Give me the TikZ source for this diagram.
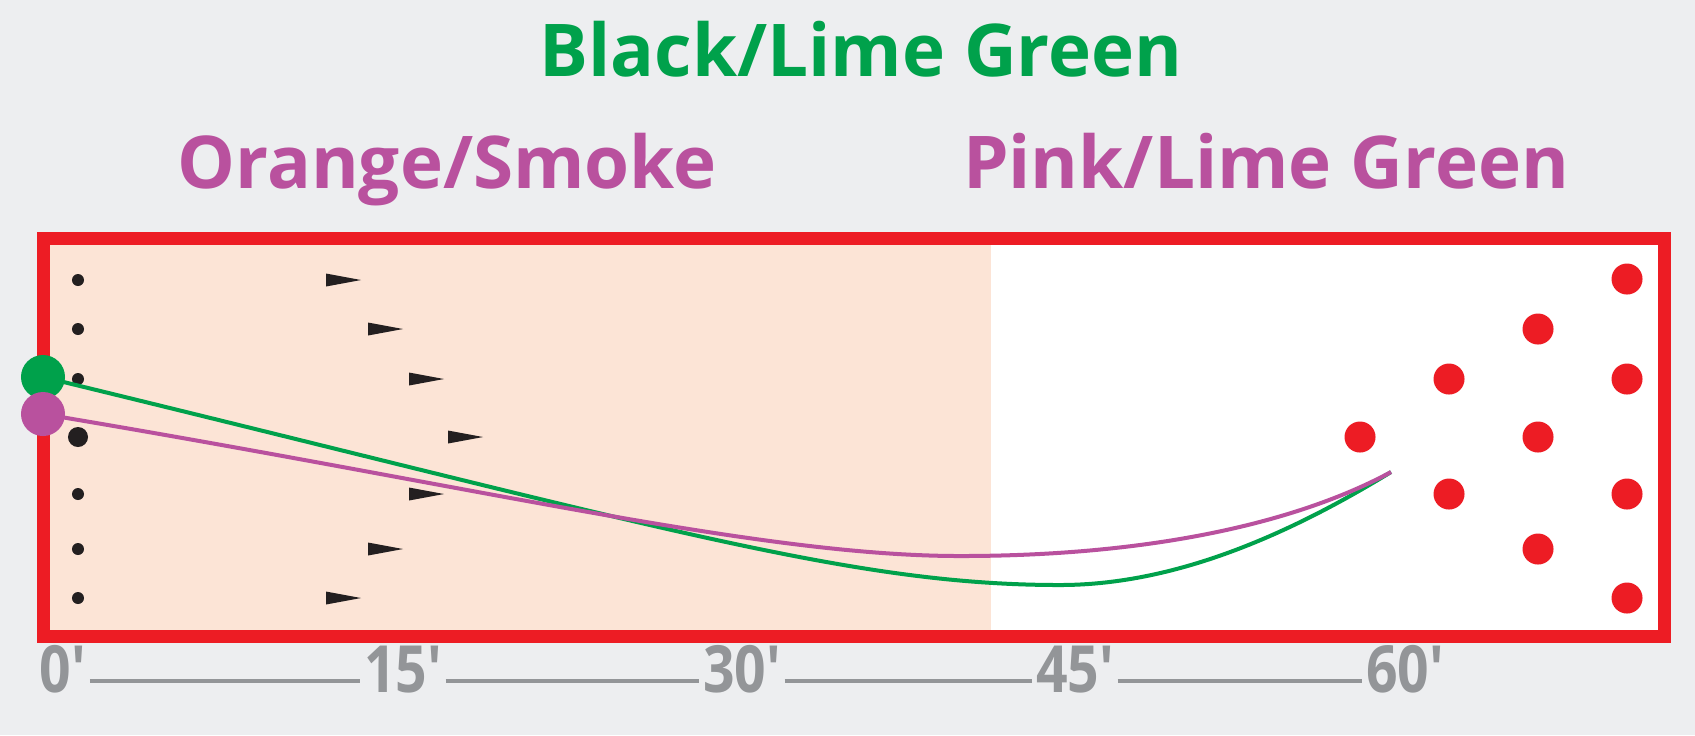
\documentclass[tikz,border=0pt]{standalone}
\usepackage{fontspec}
\usepackage{graphicx}
\setmainfont{Open Sans}
\usetikzlibrary{arrows}
\definecolor{lanered}{HTML}{ED1C24}
\definecolor{limegreen}{HTML}{00A14B}
\definecolor{pinkball}{HTML}{B9519E}
\definecolor{oilpeach}{HTML}{FCE4D6}
\definecolor{bggray}{HTML}{EDEEF0}
\definecolor{scalegray}{HTML}{939598}
\definecolor{markblack}{HTML}{231F20}

\begin{document}
\begin{tikzpicture}[x=0.01cm,y=-0.01cm]
\tikzstyle{every node}=[inner sep=0pt]
\tikzstyle{pin}=[circle,fill=lanered,minimum size=0.31cm]
\tikzstyle{dot}=[circle,fill=markblack,minimum size=0.12cm]
\tikzstyle{ball}=[circle,minimum size=0.44cm]
\tikzstyle{title}=[font=\bfseries\fontsize{20.7}{24}\selectfont,anchor=base]
\tikzstyle{feet}=[font=\bfseries\fontsize{18.5}{20}\selectfont,text=scalegray,
  anchor=base,text height=0.3cm,text depth=0.08cm,inner xsep=0.03cm]
\tikzstyle{track}=[line width=0.04cm]

% background, oil pattern and lane
\fill[bggray] (0,0) rectangle (1695,735);
\useasboundingbox (0,0) rectangle (1695,735);
\fill[oilpeach] (50,245) rectangle (991,630);
\fill[white] (991,245) rectangle (1658,630);
\draw[lanered,line width=0.13cm] (43.5,238.5) rectangle (1664.5,636);

% titles
\node[title,text=limegreen] (tblack) at (861,76) {Black/Lime Green};
\node[title,text=pinkball] (torange) at (447,188) {Orange/Smoke};
\node[title,text=pinkball] (tpink) at (1266,188) {Pink/Lime Green};

% dots and arrows
\foreach \i/\y in {1/280,2/329,3/379,5/494,6/549,7/598}
  \node[dot] (d\i) at (78,\y) {};
\node[dot,minimum size=0.2cm] (d4) at (78,437) {};
\foreach \x/\y in {326/280,368/329,409/379,448/437,409/494,368/549,326/598}
  \fill[markblack] (\x,{\y-6.5}) -- ({\x+35},\y) -- (\x,{\y+6.5}) -- cycle;

% pins
\foreach \n/\x/\y in {1/1360/437,2/1449/379,3/1449/494,4/1538/329,5/1538/437,
    6/1538/549,7/1627/279,8/1627/379,9/1627/494,10/1627/598}
  \node[pin] (p\n) at (\x,\y) {};

% balls and tracks
\node[ball,fill=limegreen] (gball) at (43,377) {};
\node[ball,fill=pinkball] (pball) at (43,414) {};
\coordinate (brk) at (1391,472);
\draw[track,limegreen] (gball.center)
  .. controls (660,527) and (850,585) .. (1060,585)
  .. controls (1180,585) and (1296,530) .. (brk);
\draw[track,pinkball] (pball.center)
  .. controls (480,487) and (760,556) .. (960,556)
  .. controls (1165,556) and (1306,518) .. (brk);

% distance scale
\node[feet] (f0) at (63,692) {\scalebox{0.85}[1]{0′}};
\node[feet] (f15) at (403,692) {\scalebox{0.85}[1]{15′}};
\node[feet] (f30) at (742,692) {\scalebox{0.85}[1]{30′}};
\node[feet] (f45) at (1075,692) {\scalebox{0.85}[1]{45′}};
\node[feet] (f60) at (1405,692) {\scalebox{0.85}[1]{60′}};
\path[draw,scalegray,line width=0.04cm]
(f0) edge (f15)
(f15) edge (f30)
(f30) edge (f45)
(f45) edge (f60)
;
\end{tikzpicture}
\end{document}
